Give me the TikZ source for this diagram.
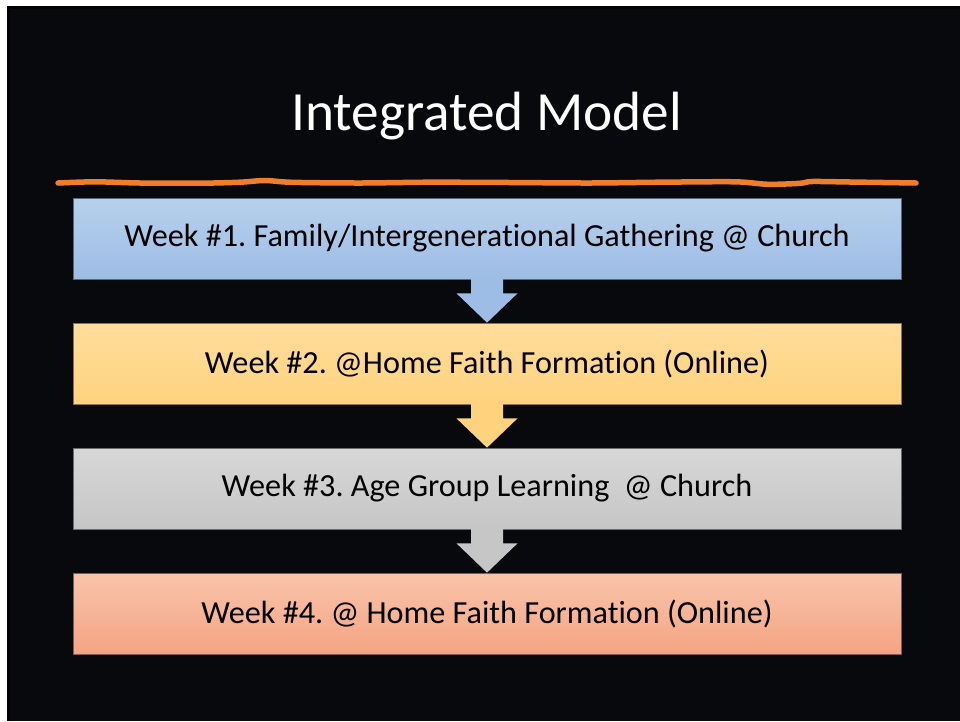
\documentclass[tikz,border=0pt]{standalone}
\usepackage{fontspec}
\setmainfont[Ligatures=CommonOff]{Carlito}
\usetikzlibrary{calc}
\definecolor{slidebg}{HTML}{08090D}
\definecolor{penline}{HTML}{EE7E2C}
\definecolor{blueT}{HTML}{B7D0EC}
\definecolor{blueB}{HTML}{9DBDE6}
\definecolor{yellowT}{HTML}{FFDD9C}
\definecolor{yellowB}{HTML}{FFD37E}
\definecolor{greyT}{HTML}{D7D7D7}
\definecolor{greyB}{HTML}{C6C6C6}
\definecolor{salmonT}{HTML}{F9C4AC}
\definecolor{salmonB}{HTML}{F4A482}
\frenchspacing

\begin{document}
\begin{tikzpicture}[x=1pt,y=-1pt,
    week/.style={draw=#1B!55!black,line width=0.7pt,top color=#1T,bottom color=#1B,
        minimum width=828pt,minimum height=81pt,inner sep=0pt,
        font=\fontsize{32.2}{38}\selectfont,text=black}]
    \useasboundingbox (0,0) rectangle (960,721);
    \fill[white] (0,0) rectangle (960,721);
    \fill[black] (7,6) rectangle (960,721);
    \fill[slidebg] (10,9) rectangle (960,721);
    \node[anchor=base,text=white,font=\fontsize{55.3}{62}\selectfont] (title) at (486.5,130) {Integrated Model};
    \draw[penline,line width=5.5pt,line cap=round] plot[smooth,tension=0.5] coordinates
        {(58,183) (95,181.8) (140,183) (200,183.2) (240,182.2) (265,180.5) (292,182.3)
         (360,183) (430,182.2) (510,182.5) (590,183) (660,182.2) (735,181.8)
         (768,184.3) (800,183.3) (812,181.5) (850,182) (916,183)};
    \node[week=blue] (b1) at (487,238.5) {Week \#1. Family/Intergenerational Gathering @ Church};
    \node[week=yellow] (b2) at (487,363.5) {Week \#2. @Home Faith Formation (Online)};
    \node[week=grey] (b3) at (487,488.5) {Week \#3. Age Group Learning \ @ Church};
    \node[week=salmon] (b4) at (487,613.5) {Week \#4. @ Home Faith Formation (Online)};
    \foreach \a/\b/\c in {b1/b2/blue,b2/b3/yellow,b3/b4/grey}
        \fill[\c B] ($(\a.south)+(-16,-1)$) -- ($(\a.south)+(16,-1)$) -- ($(\a.south)+(16,14)$)
            -- ($(\a.south)+(30.5,14)$) -- (\b.north) -- ($(\a.south)+(-30.5,14)$)
            -- ($(\a.south)+(-16,14)$) -- cycle;
\end{tikzpicture}
\end{document}
